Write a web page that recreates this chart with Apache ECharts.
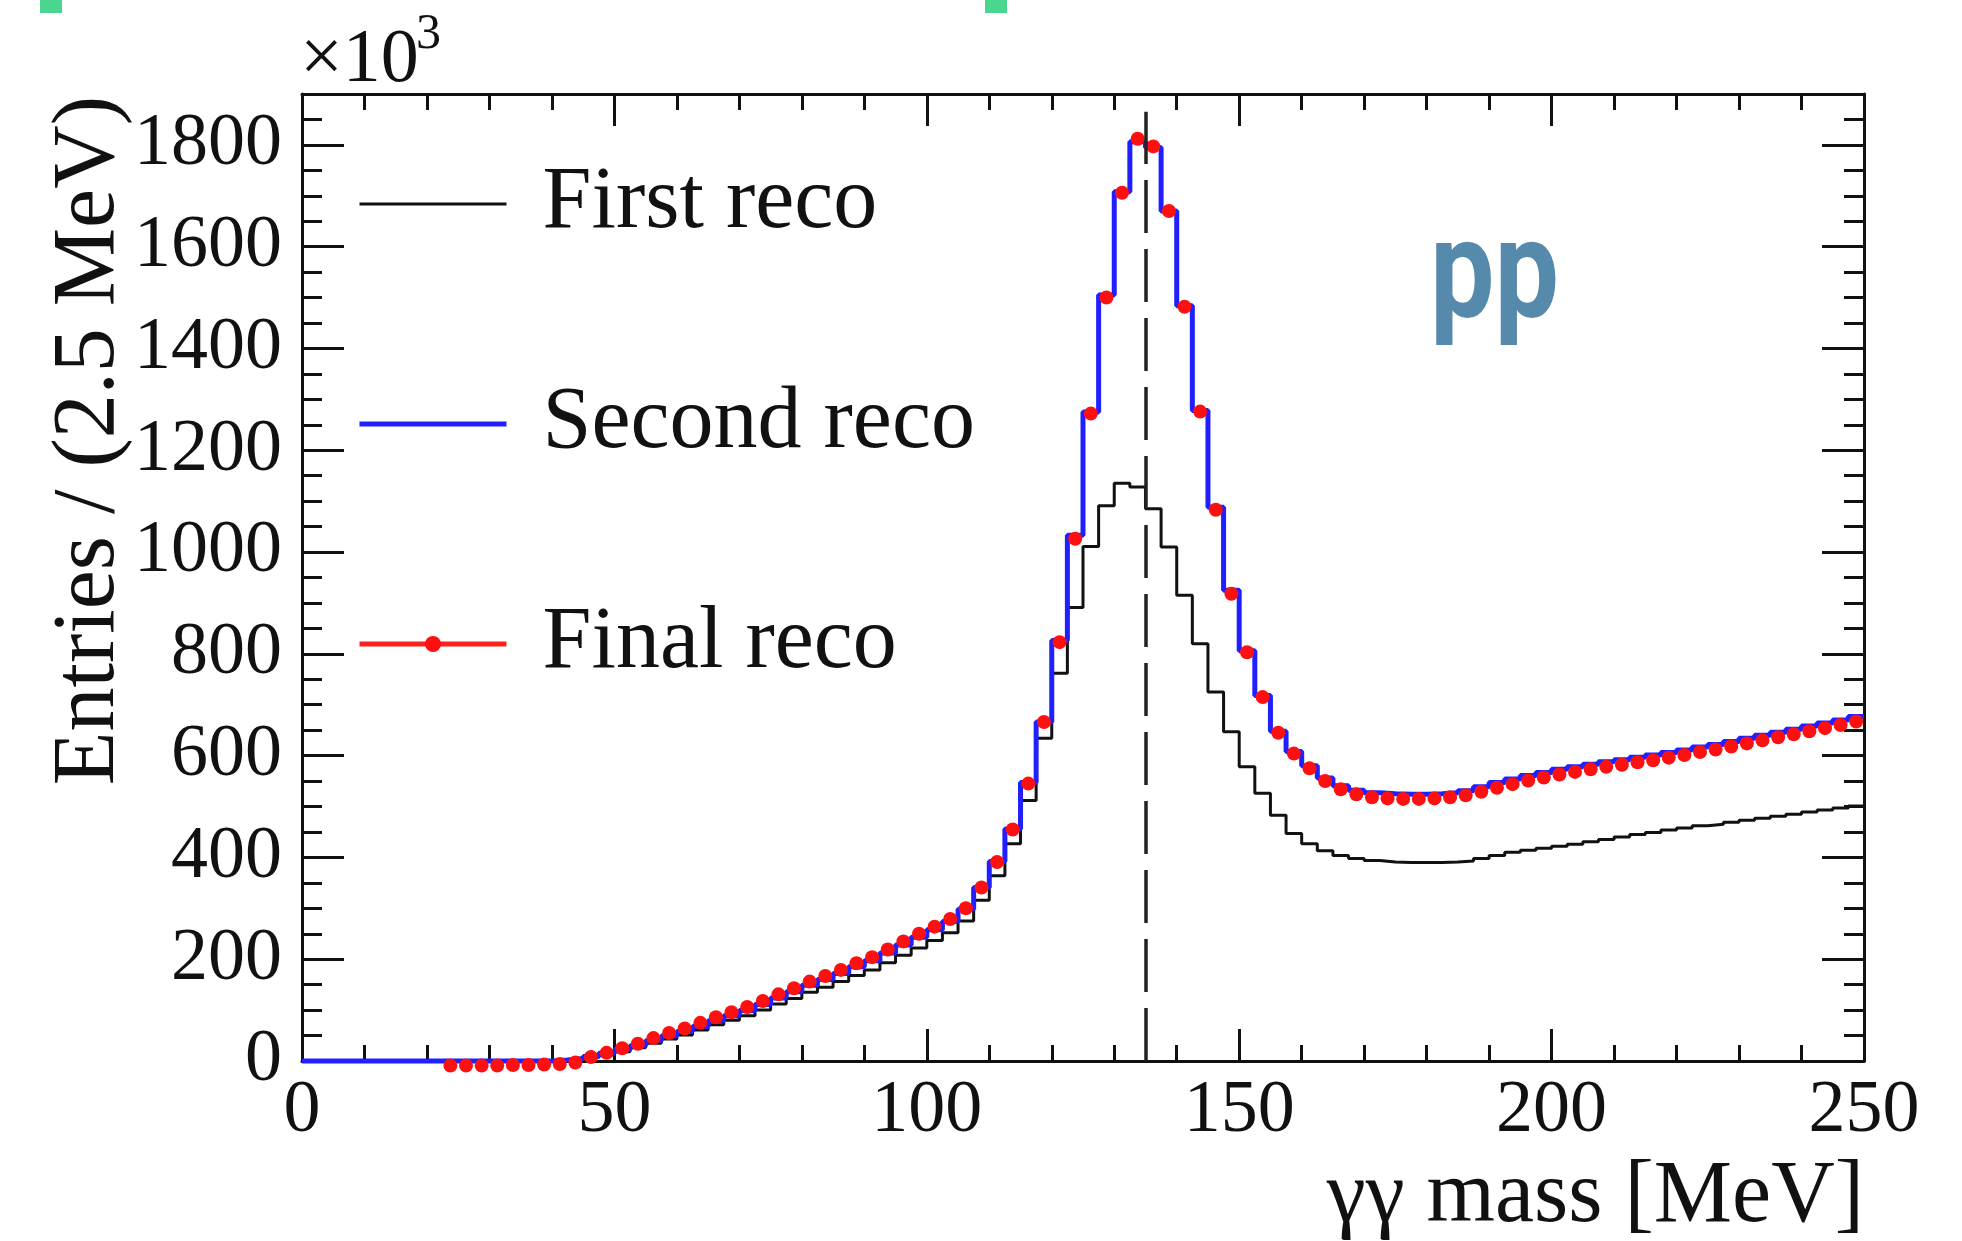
<!DOCTYPE html>
<html>
<head>
<meta charset="utf-8">
<script src="https://cdn.jsdelivr.net/npm/echarts@6.0.0/dist/echarts.min.js"></script>
<style>
html,body{margin:0;padding:0;background:#ffffff;}
#c{width:1962px;height:1241px;}
</style>
</head>
<body>
<div id="c"></div>
<script>
// ---- histogram binning (2.5 MeV bins from 0 to 250 MeV) ----
const BIN_WIDTH = 2.5;
const X_MIN = 0, X_MAX = 250, X_INTERVAL = 50;
const Y_MIN = 0, Y_MAX = 1900, Y_INTERVAL = 200, Y_MINOR = 50;
const PI0_MASS = 135;
const DASH_TOP = 1865;

// ---- series values (x10^3 entries per bin), one per bin ----
const firstReco = [
  0,0,0,0,0,0,0,0,0,0,
  0,0,0,0,0,0,1,3,7,12,
  18,26,35,43,51,61,71,80,89,100,
  112,123,135,145,156,168,179,193,208,222,
  237,252,275,316,364,427,512,634,762,891,
  1011,1091,1135,1128,1085,1010,915,820,725,647,
  578,526,483,447,427,413,404,398,394,391,
  390,390,390,391,393,398,404,410,414,418,
  422,426,431,435,440,445,449,454,458,462,
  465,469,473,477,481,485,489,493,497,501
];
const secondReco = [
  0,0,0,0,0,0,0,0,0,0,
  0,0,0,0,0,0,2,5,9,15,
  22,30,40,49,58,68,79,89,99,111,
  124,136,149,160,172,185,197,212,228,243,
  258,274,298,341,392,456,547,666,826,1033,
  1275,1505,1708,1806,1795,1670,1484,1278,1088,925,
  806,718,648,608,580,556,541,532,527,525,
  524,524,525,527,531,539,547,554,561,567,
  573,578,583,588,592,597,601,606,611,617,
  622,628,634,640,646,652,658,664,670,677
];
const finalReco = [
  null,null,null,null,null,null,null,null,null,-9,
  -9,-9,-9,-8,-8,-7,-6,-3,8,16,
  25,34,45,55,64,75,86,96,106,118,
  131,143,156,167,179,192,204,219,235,250,
  264,279,300,341,391,455,545,666,823,1026,
  1272,1500,1706,1812,1797,1670,1482,1276,1083,918,
  803,715,645,604,575,550,534,524,518,516,
  515,515,516,518,522,529,537,544,551,557,
  563,568,573,578,582,587,591,596,601,607,
  612,618,624,630,636,642,648,654,660,667
];

const seriesNames = ['First reco', 'Second reco', 'Final reco'];

// ---- build plotting data from the arrays ----
const binEdges = firstReco.map((_, i) => X_MIN + i * BIN_WIDTH);
function stepData(vals) {
  const d = vals.map((v, i) => [binEdges[i], v]);
  d.push([X_MAX, vals[vals.length - 1]]);
  return d;
}
function pointData(vals) {
  const d = [];
  vals.forEach((v, i) => { if (v !== null) d.push([binEdges[i] + BIN_WIDTH / 2, v]); });
  return d;
}

const AX = '#111111';
const SERIF = 'Liberation Serif';
const TICK_FONT = 74;

function xAx(pos, labels) {
  return {
    type: 'value', position: pos, min: X_MIN, max: X_MAX, interval: X_INTERVAL,
    axisLine: { show: true, onZero: false, lineStyle: { color: AX, width: 3 } },
    axisTick: { show: true, inside: true, length: 32, lineStyle: { color: AX, width: 3 } },
    minorTick: { show: true, splitNumber: 5, length: 16, lineStyle: { color: AX, width: 3 } },
    axisLabel: { show: labels, fontFamily: SERIF, fontSize: TICK_FONT, color: AX, margin: 14 },
    splitLine: { show: false }, minorSplitLine: { show: false }
  };
}
function yAx(pos, interval, len, labels, line) {
  return {
    type: 'value', position: pos, min: Y_MIN, max: Y_MAX, interval: interval,
    axisLine: { show: line, onZero: false, lineStyle: { color: AX, width: 3 } },
    axisTick: { show: true, inside: true, length: len, lineStyle: { color: AX, width: 3 } },
    axisLabel: {
      show: labels, fontFamily: SERIF, fontSize: TICK_FONT, color: AX, margin: 20,
      formatter: v => (v % Y_INTERVAL === 0 ? String(v) : '')
    },
    splitLine: { show: false }
  };
}

const chart = echarts.init(document.getElementById('c'), null, { renderer: 'canvas' });
chart.setOption({
  animation: false,
  backgroundColor: '#ffffff',
  grid: { left: 302, right: 98, top: 94, bottom: 180, containLabel: false },
  xAxis: [xAx('bottom', true), xAx('top', false)],
  yAxis: [
    yAx('left', Y_INTERVAL, 42, true, true),
    yAx('left', Y_MINOR, 20, false, false),
    yAx('right', Y_INTERVAL, 42, false, true),
    yAx('right', Y_MINOR, 20, false, false)
  ],
  legend: {
    orient: 'vertical', left: 357, top: 160, padding: 0,
    itemWidth: 147, itemHeight: 20, itemGap: 132,
    selectedMode: false,
    textStyle: { fontFamily: SERIF, fontSize: 88, color: AX, lineHeight: 88, padding: [0, 0, 0, 31] },
    data: [
      { name: seriesNames[0], lineStyle: { width: 3, color: '#111111', opacity: 1 }, itemStyle: { opacity: 0 } },
      { name: seriesNames[1], lineStyle: { width: 5, color: '#2020ff', opacity: 1 }, itemStyle: { opacity: 0 } },
      { name: seriesNames[2], lineStyle: { width: 5, color: '#ff2020', opacity: 1 } }
    ]
  },
  series: [
    {
      name: seriesNames[0], type: 'line', step: 'end', data: stepData(firstReco),
      symbol: 'none', clip: false,
      lineStyle: { color: '#111111', width: 3 }, itemStyle: { color: '#111111' }
    },
    {
      name: seriesNames[2], type: 'line', data: pointData(finalReco),
      symbol: 'circle', symbolSize: 14, showSymbol: true, clip: false,
      lineStyle: { color: '#ff2020', width: 0, opacity: 0 },
      itemStyle: { color: '#ff1010' }
    },
    {
      name: seriesNames[1], type: 'line', step: 'end', data: stepData(secondReco),
      symbol: 'none', clip: false,
      lineStyle: { color: '#2020ff', width: 5 }, itemStyle: { color: '#2020ff' },
      markLine: {
        silent: true, symbol: ['none', 'none'], label: { show: false },
        lineStyle: { type: [53, 16], color: '#222222', width: 3.5 },
        data: [[{ coord: [PI0_MASS, 0] }, { coord: [PI0_MASS, DASH_TOP] }]]
      }
    }
  ],
  graphic: [
    { type: 'rect', silent: true, shape: { x: 40, y: 0, width: 22, height: 13 }, style: { fill: '#4ad68f' } },
    { type: 'rect', silent: true, shape: { x: 985, y: 0, width: 22, height: 13 }, style: { fill: '#4ad68f' } },
    { type: 'text', silent: true, x: 300, y: 99,
      style: { text: '×10', font: '76px "Liberation Serif"', fill: AX, textAlign: 'left', textVerticalAlign: 'bottom' } },
    { type: 'text', silent: true, x: 416, y: 60,
      style: { text: '3', font: '50px "Liberation Serif"', fill: AX, textAlign: 'left', textVerticalAlign: 'bottom' } },
    { type: 'text', silent: true, x: 90, y: 96, rotation: Math.PI / 2,
      style: { text: 'Entries / (2.5 MeV)', font: '88px "Liberation Serif"', fill: AX, textAlign: 'right', textVerticalAlign: 'middle' } },
    { type: 'text', silent: true, x: 1864, y: 1242,
      style: { text: 'γγ mass [MeV]', font: '88px "Liberation Serif"', fill: AX, textAlign: 'right', textVerticalAlign: 'bottom' } },
    { type: 'text', silent: true, x: 1430, y: 282, scaleX: 0.82,
      style: { text: 'pp', font: 'bold 140px Roboto', fill: '#568aad', textAlign: 'left', textVerticalAlign: 'middle' } }
  ]
});
</script>
</body>
</html>
